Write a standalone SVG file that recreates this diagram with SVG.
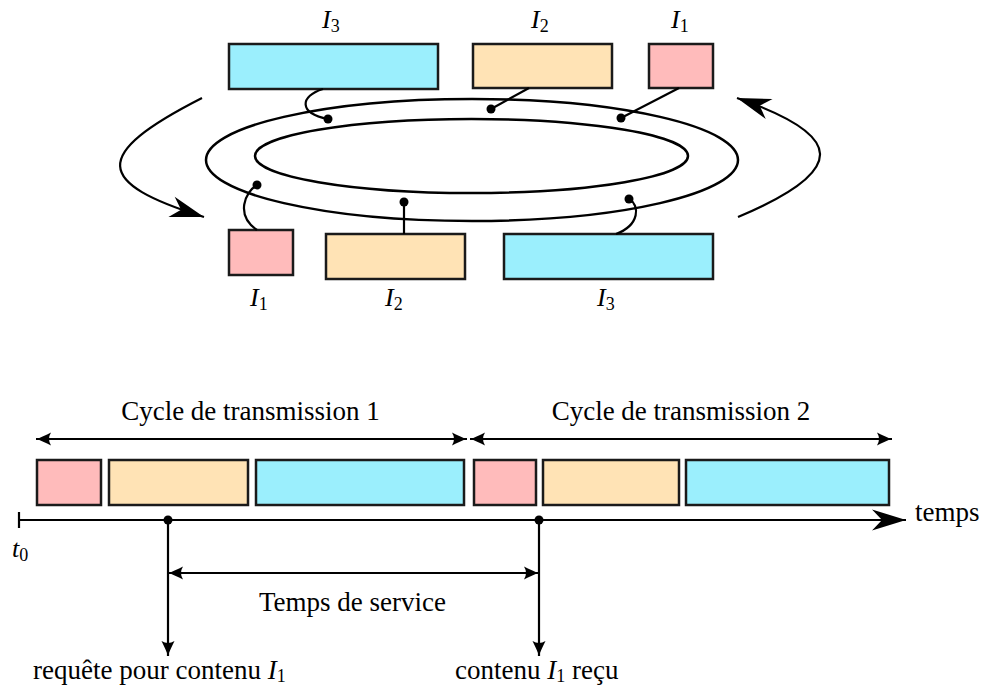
<svg xmlns="http://www.w3.org/2000/svg" width="997" height="687" viewBox="0 0 997 687">
<style>
  .box { stroke: #1a1a1a; stroke-width: 2.5; }
  .pink { fill: #FFBBBB; }
  .orange { fill: #FFE3B5; }
  .cyan { fill: #9BEFFD; }
  .line { fill: none; stroke: #000; stroke-width: 2.2; }
  .ring { fill: none; stroke: #000; stroke-width: 2.5; }
  .dot { fill: #000; }
  text { font-family: "Liberation Serif", "Times New Roman", serif; fill: #000; }
  .lbl { font-size: 27px; }
  .math { font-size: 26px; }
  .it { font-style: italic; }
  .sub { font-size: 18px; font-style: normal; }
</style>
<defs>
  <marker id="stealth" markerUnits="userSpaceOnUse" orient="auto" markerWidth="40" markerHeight="30" viewBox="-40 -15 40 30" refX="0" refY="0" overflow="visible">
    <path d="M0,0 L-34,-10.5 L-24,0 L-34,10.5 Z" fill="#000"/>
  </marker>
  <marker id="lat" markerUnits="userSpaceOnUse" orient="auto-start-reverse" markerWidth="20" markerHeight="16" viewBox="-20 -8 20 16" refX="0" refY="0" overflow="visible">
    <path d="M0,0 C-4,-1 -10,-4 -15,-6.5 Q-11,0 -15,6.5 C-10,4 -4,1 0,0 Z" fill="#000"/>
  </marker>
</defs>

<!-- ring -->
<g id="ring">
  <ellipse class="ring" cx="472" cy="160" rx="266" ry="61"/>
  <ellipse class="ring" cx="471.5" cy="156" rx="216.5" ry="37"/>
</g>

<!-- top nodes -->
<g id="top-I3">
  <rect class="box cyan" x="229" y="44" width="209" height="45"/>
  <text class="math" x="322" y="28"><tspan class="it">I</tspan><tspan class="sub" dy="4">3</tspan></text>
</g>
<g id="top-I2">
  <rect class="box orange" x="473" y="44" width="139" height="44"/>
  <text class="math" x="531" y="28"><tspan class="it">I</tspan><tspan class="sub" dy="4">2</tspan></text>
</g>
<g id="top-I1">
  <rect class="box pink" x="649" y="44" width="64" height="44"/>
  <text class="math" x="671" y="28"><tspan class="it">I</tspan><tspan class="sub" dy="4">1</tspan></text>
</g>

<!-- bottom nodes -->
<g id="bot-I1">
  <rect class="box pink" x="229" y="230" width="64" height="45"/>
  <text class="math" x="250" y="306"><tspan class="it">I</tspan><tspan class="sub" dy="4">1</tspan></text>
</g>
<g id="bot-I2">
  <rect class="box orange" x="326" y="234" width="139" height="45"/>
  <text class="math" x="385" y="306"><tspan class="it">I</tspan><tspan class="sub" dy="4">2</tspan></text>
</g>
<g id="bot-I3">
  <rect class="box cyan" x="504" y="234" width="209" height="45"/>
  <text class="math" x="597" y="306"><tspan class="it">I</tspan><tspan class="sub" dy="4">3</tspan></text>
</g>

<!-- ring connectors -->
<g id="connectors">
  <path class="line" d="M323,89 C300,96 298,113 328,119"/>
  <path class="line" d="M529,88 L491,109"/>
  <path class="line" d="M679,88 L621,118"/>
  <path class="line" d="M257,185 C245,192 235,215 257,230"/>
  <path class="line" d="M404,202 L404,234"/>
  <path class="line" d="M629,199 C640,205 640,225 616,234"/>
  <circle class="dot" cx="328" cy="119" r="4.5"/>
  <circle class="dot" cx="491" cy="109" r="4.5"/>
  <circle class="dot" cx="621" cy="118" r="4.5"/>
  <circle class="dot" cx="257" cy="185" r="4.5"/>
  <circle class="dot" cx="404" cy="202" r="4.5"/>
  <circle class="dot" cx="629" cy="199" r="4.5"/>
  <path class="line" d="M202,98 C90,155 95,183 204,217" marker-end="url(#stealth)"/>
  <path class="line" d="M738,217 C850,170 845,135 737,98" marker-end="url(#stealth)"/>
</g>

<!-- timeline -->
<g id="cycle1">
  <text class="lbl" x="250.5" y="420" text-anchor="middle">Cycle de transmission 1</text>
  <path class="line" d="M36,439 L467,439" marker-start="url(#lat)" marker-end="url(#lat)"/>
</g>
<g id="cycle2">
  <text class="lbl" x="681" y="420" text-anchor="middle">Cycle de transmission 2</text>
  <path class="line" d="M470,439 L892,439" marker-start="url(#lat)" marker-end="url(#lat)"/>
</g>
<g id="slots">
  <rect class="box pink" x="37" y="460" width="64" height="45"/>
  <rect class="box orange" x="109" y="460" width="139" height="45"/>
  <rect class="box cyan" x="256" y="460" width="208" height="45"/>
  <rect class="box pink" x="474" y="460" width="62" height="45"/>
  <rect class="box orange" x="543" y="460" width="136" height="45"/>
  <rect class="box cyan" x="686" y="460" width="203" height="45"/>
</g>
<g id="axis">
  <path class="line" d="M19,520 L906,520" marker-end="url(#stealth)"/>
  <path class="line" d="M19,512 L19,528"/>
  <text class="lbl" x="915" y="521">temps</text>
  <text class="math" x="12" y="557"><tspan class="it">t</tspan><tspan class="sub" dy="4">0</tspan></text>
</g>
<g id="request">
  <circle class="dot" cx="168" cy="520" r="4.5"/>
  <path class="line" d="M168,520 L168,656" marker-end="url(#lat)"/>
  <text class="lbl" x="33" y="679">requête pour contenu <tspan class="it">I</tspan><tspan class="sub" dy="3">1</tspan></text>
</g>
<g id="received">
  <circle class="dot" cx="539" cy="520" r="4.5"/>
  <path class="line" d="M539,520 L539,656" marker-end="url(#lat)"/>
  <text class="lbl" x="455" y="679">contenu <tspan class="it">I</tspan><tspan class="sub" dy="3">1</tspan><tspan dy="-3"> reçu</tspan></text>
</g>
<g id="service">
  <path class="line" d="M168,573 L539,573" marker-start="url(#lat)" marker-end="url(#lat)"/>
  <text class="lbl" x="352.5" y="611" text-anchor="middle">Temps de service</text>
</g>
</svg>
